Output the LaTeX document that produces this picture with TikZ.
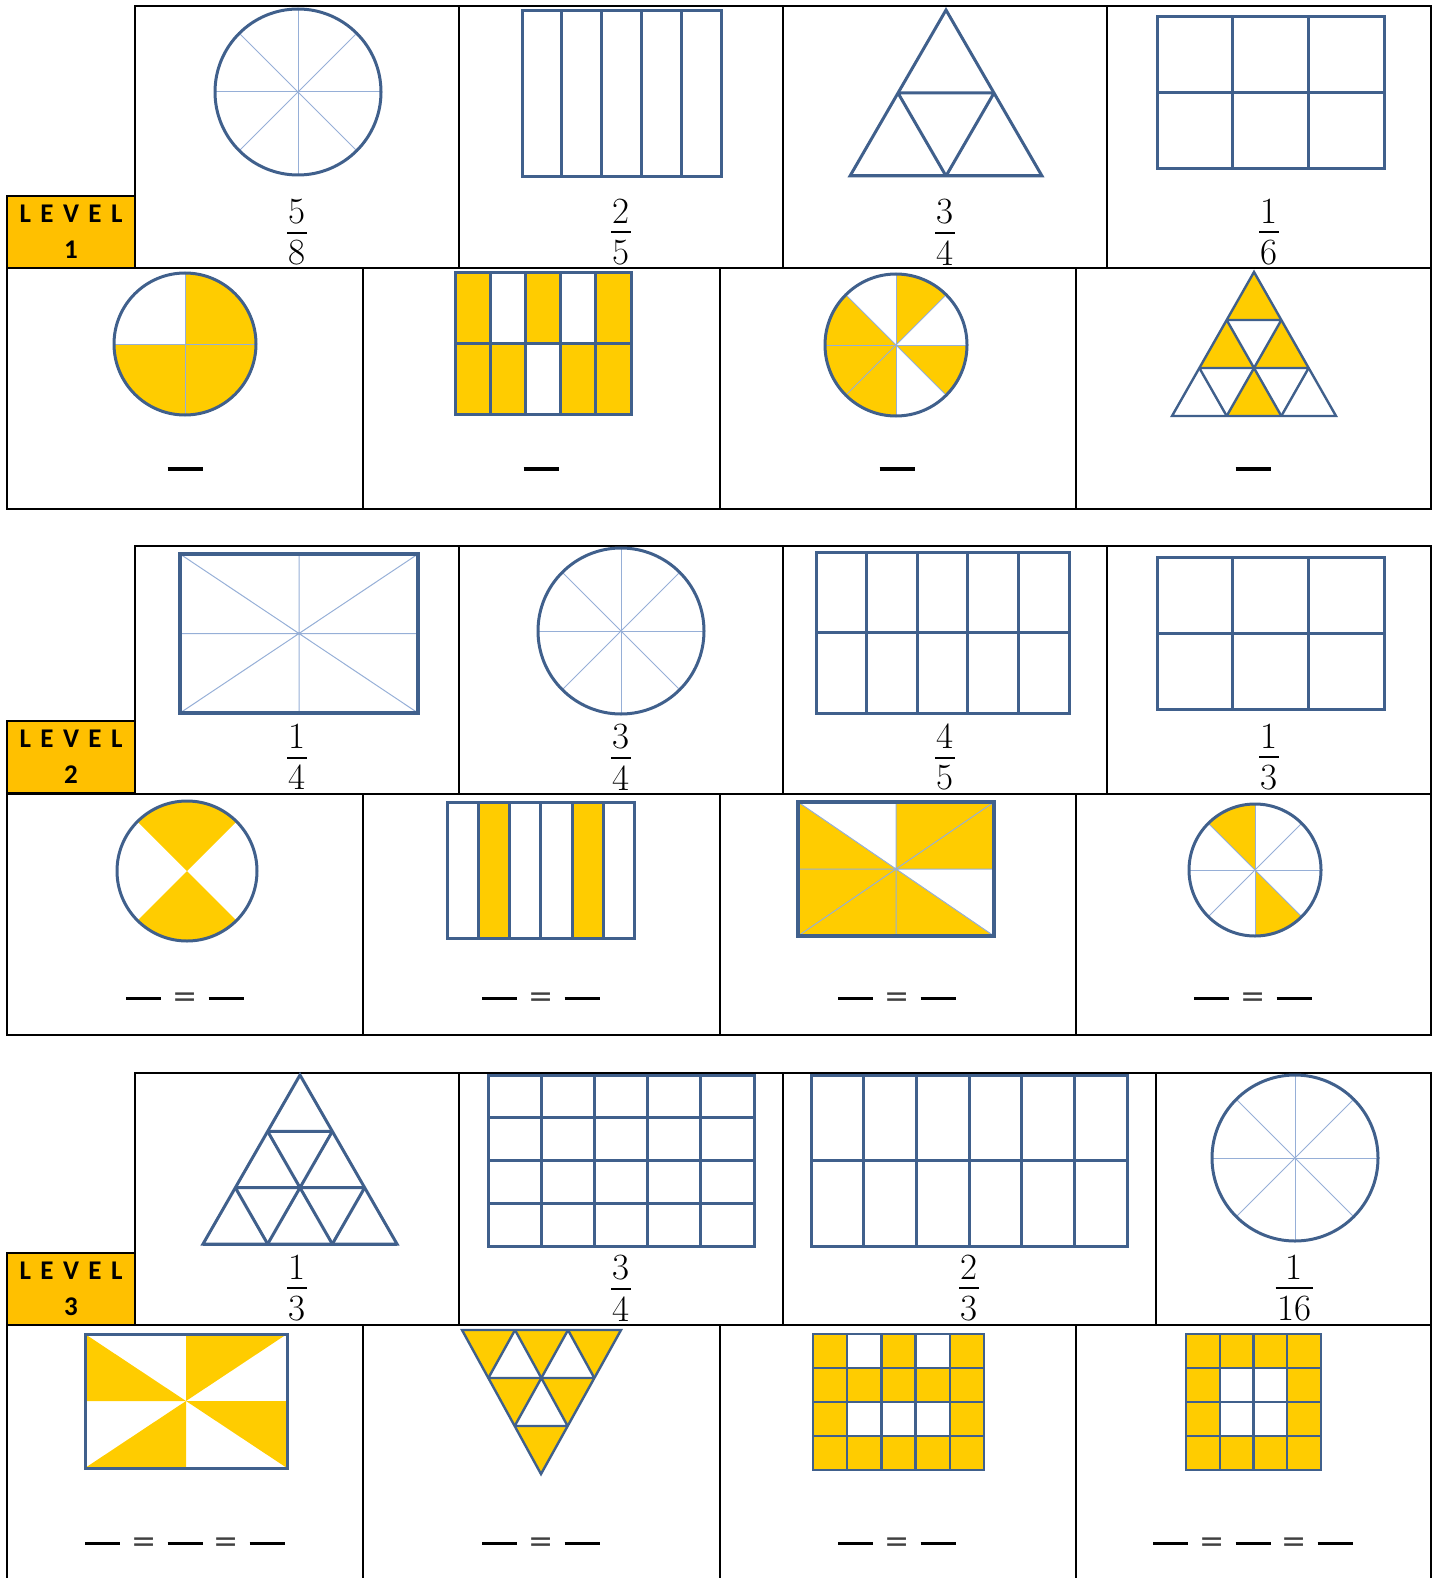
\documentclass[tikz,border=0pt]{standalone}
\usepackage{fix-cm}
\usepackage{fontspec}
\newfontfamily\levelfont[LetterSpace=35]{Carlito}
\newfontfamily\eqfont{DejaVu Sans}
\definecolor{shapeblue}{RGB}{64,96,140}
\definecolor{thinblue}{RGB}{150,175,215}
\definecolor{fracyellow}{RGB}{255,204,0}
\definecolor{levelorange}{RGB}{255,192,0}
\newcommand{\fr}[2]{\vbox{\offinterlineskip\halign{\hfil\kern1.5pt##\kern1.5pt\hfil\cr #1\cr
  \noalign{\kern8pt\hrule height 2pt\kern6.5pt}#2\cr}}}
\newcommand{\bl}{\rule[6.5pt]{35pt}{3.5pt}}
\newcommand{\eq}{\hspace{11pt}{\color{black!75}\eqfont\fontsize{30}{30}\selectfont =}\hspace{11pt}}
\newcommand{\spokes}[1]{\foreach \a in {0,45,90,135} \draw[thinline] (\a:#1) -- (\a+180:#1);}
\newcommand{\cellgrid}[2]{%
  \foreach \i in {0,...,#1} \draw[outline] (\i,0) -- (\i,#2);
  \foreach \j in {0,...,#2} \draw[outline] (0,\j) -- (#1,\j);
  \draw[outline] (0,0) rectangle (#1,#2);}
\newcommand{\tridiv}[1]{%
  \foreach \k in {1,...,#1} \draw[outline] (\k,0) -- (0,\k) (\k,0) -- (\k,#1-\k) (0,\k) -- (#1-\k,\k);
  \draw[outline] (0,0) -- (#1,0) -- (0,#1) -- cycle;}

\begin{document}
\begin{tikzpicture}[x=1pt, y=-1pt,
    tabline/.style = {line width=1.6pt},
    outline/.style = {draw=shapeblue, line width=3pt},
    thinline/.style = {draw=thinblue, line width=1pt},
    fracfill/.style = {fill=fracyellow},
    levelbox/.style = {draw, line width=1.6pt, fill=levelorange, minimum width=128pt, minimum height=72pt,
        inner sep=0pt, align=center, font=\levelfont\bfseries\fontsize{27}{36}\selectfont},
    fracnum/.style = {inner sep=0pt, font=\fontsize{37}{40}\selectfont},
    blank/.style = {inner sep=0pt, font=\fontsize{33}{36}\selectfont}]
\useasboundingbox (0,0) rectangle (1438,1578);

\draw[tabline] (135,6) rectangle (1431,268);
\foreach \x in {459,783,1107} \draw[tabline] (\x,6) -- (\x,268);
\draw[tabline] (7,268) rectangle (1431,509);
\foreach \x in {363,720,1076} \draw[tabline] (\x,268) -- (\x,509);

\draw[tabline] (135,546) rectangle (1431,794);
\foreach \x in {459,783,1107} \draw[tabline] (\x,546) -- (\x,794);
\draw[tabline] (7,794) rectangle (1431,1035);
\foreach \x in {363,720,1076} \draw[tabline] (\x,794) -- (\x,1035);

\draw[tabline] (135,1073) rectangle (1431,1325);
\foreach \x in {459,783,1156} \draw[tabline] (\x,1073) -- (\x,1325);
\draw[tabline] (7,1325) rectangle (1431,1584);
\foreach \x in {363,720,1076} \draw[tabline] (\x,1325) -- (\x,1584);

\node[levelbox] (lvl1) at (71,232) {LEVEL\\1};
\node[levelbox] (lvl2) at (71,757) {LEVEL\\2};
\node[levelbox] (lvl3) at (71,1289) {LEVEL\\3};

% level 1
\begin{scope}[shift={(298,92)}, y=1pt]
  \spokes{83}
  \draw[outline] (0,0) circle[radius=83];
\end{scope}
\begin{scope}[shift={(522,11)}, x={(39.8pt,0pt)}, y={(0pt,-166pt)}]
  \cellgrid{5}{1}
\end{scope}
\begin{scope}[shift={(946,10)}, x={(-48pt,-83pt)}, y={(48pt,-83pt)}]
  \tridiv{2}
\end{scope}
\begin{scope}[shift={(1157,17)}, x={(75.67pt,0pt)}, y={(0pt,-76pt)}]
  \cellgrid{3}{2}
\end{scope}

\begin{scope}[shift={(185,344)}, y=1pt]
  \fill[fracfill] (0,0) -- (90:71) arc[start angle=90, end angle=-180, radius=71] -- cycle;
  \draw[thinline] (-71,0) -- (71,0) (0,-71) -- (0,71);
  \draw[outline] (0,0) circle[radius=71];
\end{scope}
\begin{scope}[shift={(455,273)}, x={(35.2pt,0pt)}, y={(0pt,-70.5pt)}]
  \foreach \i in {0,2,4} \fill[fracfill] (\i,0) rectangle +(1,1);
  \foreach \i in {0,1,3,4} \fill[fracfill] (\i,1) rectangle +(1,1);
  \cellgrid{5}{2}
\end{scope}
\begin{scope}[shift={(896,345)}, y=1pt]
  \foreach \a in {45,135,180,225,315}
    \fill[fracfill] (0,0) -- (\a:71) arc[start angle=\a, end angle=\a+45, radius=71] -- cycle;
  \spokes{71}
  \draw[outline] (0,0) circle[radius=71];
\end{scope}
\begin{scope}[shift={(1254,272)}, x={(-27.33pt,-48pt)}, y={(27.33pt,-48pt)}, outline/.append style={line width=2.4pt}]
  \foreach \i/\j in {0/0,1/0,0/1,1/1} \fill[fracfill] (\i,\j) -- ++(1,0) -- ++(-1,1) -- cycle;
  \tridiv{3}
\end{scope}

\node[fracnum] (f11) at (297,232) {\fr{5}{8}};
\node[fracnum] (f12) at (621,232) {\fr{2}{5}};
\node[fracnum] (f13) at (945,232) {\fr{3}{4}};
\node[fracnum] (f14) at (1269,232) {\fr{1}{6}};

\node[blank] (b11) at (185,472) {\bl};
\node[blank] (b12) at (541,472) {\bl};
\node[blank] (b13) at (897,472) {\bl};
\node[blank] (b14) at (1253,472) {\bl};

% level 2
\begin{scope}[shift={(180,554)}, x={(238pt,0pt)}, y={(0pt,-159pt)}]
  \draw[thinline] (0,0) -- (1,1) (1,0) -- (0,1) (0.5,0) -- (0.5,1) (0,0.5) -- (1,0.5);
  \draw[outline, line width=4.5pt] (0,0) rectangle (1,1);
\end{scope}
\begin{scope}[shift={(621,631)}, y=1pt]
  \spokes{83}
  \draw[outline] (0,0) circle[radius=83];
\end{scope}
\begin{scope}[shift={(816,552)}, x={(50.6pt,0pt)}, y={(0pt,-80.5pt)}]
  \cellgrid{5}{2}
\end{scope}
\begin{scope}[shift={(1157,557)}, x={(75.67pt,0pt)}, y={(0pt,-76pt)}]
  \cellgrid{3}{2}
\end{scope}

\begin{scope}[shift={(187,871)}, y=1pt]
  \foreach \a in {45,225}
    \fill[fracfill] (0,0) -- (\a:70) arc[start angle=\a, end angle=\a+90, radius=70] -- cycle;
  \draw[outline] (0,0) circle[radius=70];
\end{scope}
\begin{scope}[shift={(447,802)}, x={(31.33pt,0pt)}, y={(0pt,-136pt)}]
  \foreach \i in {1,4} \fill[fracfill] (\i,0) rectangle +(1,1);
  \cellgrid{6}{1}
\end{scope}
\begin{scope}[shift={(798,802)}, x={(196pt,0pt)}, y={(0pt,-134pt)}]
  \fill[fracfill] (0,0) -- (1,1) -- (0,1) -- cycle;
  \fill[fracfill] (0.5,0) rectangle (1,0.5);
  \draw[thinline] (0,0) -- (1,1) (1,0) -- (0,1) (0.5,0) -- (0.5,1) (0,0.5) -- (1,0.5);
  \draw[outline, line width=4pt] (0,0) rectangle (1,1);
\end{scope}
\begin{scope}[shift={(1255,870)}, y=1pt]
  \foreach \a in {90,270}
    \fill[fracfill] (0,0) -- (\a:66) arc[start angle=\a, end angle=\a+45, radius=66] -- cycle;
  \spokes{66}
  \draw[outline] (0,0) circle[radius=66];
\end{scope}

\node[fracnum] (f21) at (297,757) {\fr{1}{4}};
\node[fracnum] (f22) at (621,757) {\fr{3}{4}};
\node[fracnum] (f23) at (945,757) {\fr{4}{5}};
\node[fracnum] (f24) at (1269,757) {\fr{1}{3}};

\node[blank] (b21) at (185,1000) {\bl\eq\bl};
\node[blank] (b22) at (541,1000) {\bl\eq\bl};
\node[blank] (b23) at (897,1000) {\bl\eq\bl};
\node[blank] (b24) at (1253,1000) {\bl\eq\bl};

% level 3
\begin{scope}[shift={(300,1075)}, x={(-32.33pt,-56.33pt)}, y={(32.33pt,-56.33pt)}]
  \tridiv{3}
\end{scope}
\begin{scope}[shift={(488,1075)}, x={(53.2pt,0pt)}, y={(0pt,-42.75pt)}]
  \cellgrid{5}{4}
\end{scope}
\begin{scope}[shift={(811,1075)}, x={(52.67pt,0pt)}, y={(0pt,-85.5pt)}]
  \cellgrid{6}{2}
\end{scope}
\begin{scope}[shift={(1295,1158)}, y=1pt]
  \spokes{83}
  \draw[outline] (0,0) circle[radius=83];
\end{scope}

\begin{scope}[shift={(85,1334)}, x={(202pt,0pt)}, y={(0pt,-134pt)}]
  \fill[fracfill] (0,0) -- (0.5,0.5) -- (0,0.5) -- cycle;
  \fill[fracfill] (0.5,0) -- (0.5,0.5) -- (1,0) -- cycle;
  \fill[fracfill] (1,0.5) -- (0.5,0.5) -- (1,1) -- cycle;
  \fill[fracfill] (0.5,1) -- (0.5,0.5) -- (0,1) -- cycle;
  \draw[outline] (0,0) rectangle (1,1);
\end{scope}
\begin{scope}[shift={(541,1474)}, x={(-26.33pt,48pt)}, y={(26.67pt,48pt)}, outline/.append style={line width=2.4pt}]
  \foreach \i/\j in {0/0,1/0,0/1,2/0,1/1,0/2} \fill[fracfill] (\i,\j) -- ++(1,0) -- ++(-1,1) -- cycle;
  \tridiv{3}
\end{scope}
\begin{scope}[shift={(813,1334)}, x={(34.2pt,0pt)}, y={(0pt,-34pt)}, outline/.append style={line width=2.4pt}]
  \fill[fracfill] (0,0) rectangle (5,4);
  \foreach \i/\j in {1/0,3/0,1/2,2/2,3/2} \fill[white] (\i,\j) rectangle +(1,1);
  \cellgrid{5}{4}
\end{scope}
\begin{scope}[shift={(1186,1334)}, x={(33.75pt,0pt)}, y={(0pt,-34pt)}, outline/.append style={line width=2.4pt}]
  \fill[fracfill] (0,0) rectangle (4,4);
  \fill[white] (1,1) rectangle (3,3);
  \cellgrid{4}{4}
\end{scope}

\node[fracnum] (f31) at (297,1288) {\fr{1}{3}};
\node[fracnum] (f32) at (621,1288) {\fr{3}{4}};
\node[fracnum] (f33) at (969,1288) {\fr{2}{3}};
\node[fracnum] (f34) at (1294,1288) {\fr{1}{16}};

\node[blank] (b31) at (185,1545) {\bl\eq\bl\eq\bl};
\node[blank] (b32) at (541,1545) {\bl\eq\bl};
\node[blank] (b33) at (897,1545) {\bl\eq\bl};
\node[blank] (b34) at (1253,1545) {\bl\eq\bl\eq\bl};
\end{tikzpicture}
\end{document}
